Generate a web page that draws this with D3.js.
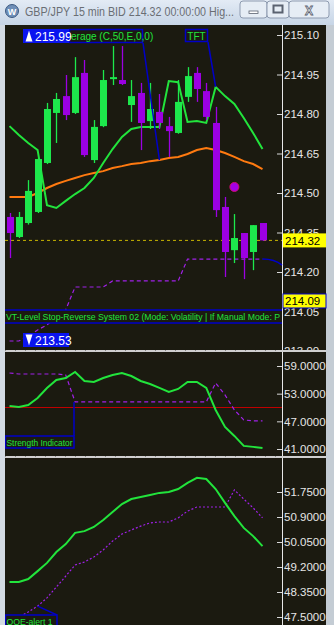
<!DOCTYPE html>
<html>
<head>
<meta charset="utf-8">
<script src="https://cdn.jsdelivr.net/npm/d3@7"></script>
<style>
  html, body { margin: 0; padding: 0; background: #1b1a10; overflow: hidden; }
  svg { display: block; font-family: "Liberation Sans", Arial, sans-serif; }
</style>
</head>
<body>
<svg id="chart" width="334" height="625"></svg>
<script>
// ---- data ----
var titleText = "GBP/JPY 15 min BID 214.32 00:00:00 Hig...";

var candleOpen  = [214.409, 214.333, 214.386, 214.428, 214.614, 214.804, 214.868, 214.804, 214.956, 214.625,
                   214.754, 214.933, 214.929, 214.834, 214.880, 214.773, 214.808, 214.754, 214.728, 214.865,
                   214.956, 214.887, 214.766, 214.447, 214.283, 214.348, 214.276, 214.386];
var candleHigh  = [214.424, 214.428, 214.549, 214.632, 214.842, 214.880, 214.948, 215.016, 215.005, 214.777,
                   214.967, 215.058, 215.058, 214.929, 214.918, 214.918, 214.876, 214.789, 214.929, 214.978,
                   214.978, 214.918, 214.827, 214.485, 214.420, 214.348, 214.378, 214.386];
var candleLow   = [214.253, 214.329, 214.380, 214.424, 214.610, 214.690, 214.777, 214.800, 214.637, 214.614,
                   214.750, 214.910, 214.910, 214.770, 214.663, 214.743, 214.743, 214.637, 214.725, 214.846,
                   214.846, 214.777, 214.409, 214.181, 214.234, 214.173, 214.207, 214.318];
var candleClose = [214.348, 214.409, 214.508, 214.629, 214.819, 214.857, 214.796, 214.940, 214.644, 214.751,
                   214.929, 214.940, 214.914, 214.868, 214.766, 214.819, 214.766, 214.735, 214.846, 214.944,
                   214.895, 214.789, 214.435, 214.276, 214.329, 214.253, 214.378, 214.320];

var emaValues  = [214.485, 214.485, 214.485, 214.500, 214.519, 214.534, 214.546, 214.557, 214.568, 214.576,
                  214.583, 214.595, 214.602, 214.610, 214.614, 214.621, 214.625, 214.633, 214.637, 214.648,
                  214.663, 214.671, 214.663, 214.652, 214.637, 214.621, 214.610, 214.591];
var tftValues  = [214.754, 214.720, 214.690, 214.663, 214.454, 214.443, 214.470, 214.496, 214.519, 214.557,
                  214.614, 214.667, 214.713, 214.743, 214.751, 214.751, 214.751, 214.925, 214.921, 214.770,
                  214.773, 214.766, 214.903, 214.868, 214.838, 214.785, 214.728, 214.667];
var stopValues = [213.938, 213.938, 213.957, 213.980, 213.999, 214.029, 214.056, 214.143, 214.143, 214.143,
                  214.143, 214.166, 214.166, 214.166, 214.166, 214.166, 214.166, 214.166, 214.166, 214.249,
                  214.249, 214.249, 214.249, 214.249, 214.249, 214.249, 214.249, 214.249];
var priceTicks = [215.10, 214.95, 214.80, 214.65, 214.50, 214.35, 214.20, 214.05, 213.90];
var bidPrice = 214.32;
var stopPrice = 214.09;
var highPrice = 215.99;
var lowPrice = 213.53;
var dotIndex = 24;
var dotPrice = 214.523;

var strengthMain   = [50.34, 50.12, 50.55, 52.07, 54.24, 55.97, 56.40, 57.70, 55.75, 55.53,
                      56.40, 57.05, 57.48, 56.83, 55.75, 55.10, 54.24, 53.37, 54.02, 55.53,
                      55.53, 54.24, 49.47, 45.79, 43.84, 41.67, 41.46, 41.24];
var strengthSignal = [57.48, 57.27, 57.27, 57.27, 57.27, 57.27, 57.05, 51.20, 51.20, 51.20,
                      51.20, 51.20, 51.20, 51.20, 51.20, 51.20, 51.20, 51.20, 51.20, 51.20,
                      51.20, 51.20, 55.32, 52.72, 49.47, 47.30, 47.09, 47.09];
var strengthLevel = 50;
var strengthTicks = [59, 53, 47, 41];

var qqeMain   = [48.69, 48.69, 48.79, 49.06, 49.34, 49.71, 49.98, 50.36, 50.42, 50.56,
                 50.80, 51.07, 51.34, 51.51, 51.58, 51.65, 51.72, 51.75, 51.85, 52.06,
                 52.23, 52.19, 51.85, 51.38, 50.93, 50.53, 50.25, 49.91];
var qqeSignal = [47.33, 47.50, 47.67, 47.87, 48.15, 48.52, 48.89, 49.27, 49.37, 49.54,
                 49.78, 50.08, 50.32, 50.46, 50.59, 50.70, 50.73, 50.73, 50.87, 51.10,
                 51.24, 51.24, 51.24, 51.24, 51.82, 51.51, 51.21, 50.87];
var qqeTicks = [51.75, 50.90, 50.05, 49.20, 48.35, 47.50];

// ---- layout ----
var width = 334, height = 625;
var left = 5, axisX = 282, right = 326;
var mainTop = 25, mainBottom = 350;
var strTop = 352, strBottom = 456;
var qqeTop = 458, qqeBottom = 625;

var bg = "#1b1a10";
var bull = "#1de84c", bear = "#9c00e2", lineGreen = "#22e43c", purple = "#a020e8";
var boxBlue = "#0000c8";

var svg = d3.select("#chart");
var idx = d3.range(candleOpen.length);

var x = d3.scaleLinear().domain([0, idx.length - 1]).range([9.5, 262.5]);
var yP = d3.scaleLinear().domain([215.10, 213.90]).range([35, 351]);
var yS = d3.scaleLinear().domain([59, 41]).range([366, 449]);
var yQ = d3.scaleLinear().domain([51.75, 47.5]).range([492, 617]);

var defs = svg.append("defs");
function clip(id, y0, y1) {
  defs.append("clipPath").attr("id", id)
    .append("rect").attr("x", left).attr("y", y0).attr("width", right - left).attr("height", y1 - y0);
}
clip("cMain", mainTop, mainBottom);
clip("cStr", strTop, strBottom);
clip("cQqe", qqeTop, qqeBottom);

// window frame
var tg = defs.append("linearGradient").attr("id", "titleGrad").attr("x1", 0).attr("y1", 0).attr("x2", 0).attr("y2", 1);
tg.append("stop").attr("offset", 0).attr("stop-color", "#e3ebf5");
tg.append("stop").attr("offset", 1).attr("stop-color", "#c7d5e6");
svg.append("rect").attr("width", width).attr("height", height).attr("fill", "#cdd7e2");
svg.append("rect").attr("width", width).attr("height", mainTop).attr("fill", "url(#titleGrad)");
svg.append("rect").attr("x", right).attr("y", mainTop).attr("width", width - right).attr("height", height - mainTop).attr("fill", "#c4ccd4");
svg.append("rect").attr("x", 0).attr("y", mainTop).attr("width", left).attr("height", height - mainTop).attr("fill", "#d3dbe3");

// title bar
svg.append("circle").attr("cx", 12).attr("cy", 11).attr("r", 6.5).attr("fill", "#6f8fb8").attr("stroke", "#3d5a82");
svg.append("text").attr("x", 12).attr("y", 14.5).attr("text-anchor", "middle").attr("font-size", 9).attr("font-weight", "bold")
  .attr("fill", "#ffffff").text("W");
svg.append("text").attr("x", 25).attr("y", 16).attr("font-size", 12).attr("fill", "#6a6e74")
  .attr("textLength", 209).attr("lengthAdjust", "spacingAndGlyphs").text(titleText);

var buttons = [{x: 240, w: 27, s: "min"}, {x: 267, w: 22, s: "max"}, {x: 289, w: 40, s: "close"}];
var btn = svg.append("g").selectAll("g").data(buttons).enter().append("g");
btn.append("rect").attr("x", d => d.x).attr("y", 1).attr("width", d => d.w).attr("height", 17).attr("rx", 3)
  .attr("fill", "#e6edf5").attr("stroke", "#8e9bb0");
btn.filter(d => d.s === "min").append("rect").attr("x", d => d.x + 9).attr("y", 11).attr("width", 9).attr("height", 2.5)
  .attr("fill", "#ffffff").attr("stroke", "#5a6270").attr("stroke-width", 0.8);
btn.filter(d => d.s === "max").append("rect").attr("x", d => d.x + 6.5).attr("y", 5.5).attr("width", 9).attr("height", 7)
  .attr("fill", "none").attr("stroke", "#5a6270").attr("stroke-width", 2);
btn.filter(d => d.s === "close").append("text").attr("x", d => d.x + d.w / 2).attr("y", 14.5).attr("text-anchor", "middle")
  .attr("font-size", 12).attr("font-weight", "bold").attr("fill", "#ffffff").attr("stroke", "#5a6270").attr("stroke-width", 0.8).text("X");

// panel backgrounds
[[mainTop, mainBottom], [strTop, strBottom], [qqeTop, qqeBottom]].forEach(function (p) {
  svg.append("rect").attr("x", left).attr("y", p[0]).attr("width", right - left).attr("height", p[1] - p[0]).attr("fill", bg);
});

// separators between panels
[mainBottom, strBottom].forEach(function (yy) {
  svg.append("rect").attr("x", left).attr("y", yy).attr("width", right - left).attr("height", 2).attr("fill", "#cfcfcf");
  svg.append("line").attr("x1", left).attr("x2", axisX).attr("y1", yy + 0.5).attr("y2", yy + 0.5)
    .attr("stroke", "#8a8a8a").attr("stroke-dasharray", "1,9");
});

function drawAxis(scale, ticks, fmt, clipId, y0, y1) {
  var g = svg.append("g").attr("clip-path", "url(#" + clipId + ")");
  var ax = g.append("g").attr("transform", "translate(" + axisX + ",0)")
    .call(d3.axisRight(scale).tickValues(ticks).tickFormat(fmt).tickSizeInner(-5).tickSizeOuter(0).tickPadding(2));
  ax.select(".domain").remove();
  ax.selectAll(".tick line").attr("stroke", "#d8d8d8");
  ax.selectAll(".tick text").attr("fill", "#e6e6e6").attr("font-size", 11.5)
    .attr("font-family", "'Liberation Sans', Arial, sans-serif");
  g.append("line").attr("x1", axisX + 0.5).attr("x2", axisX + 0.5).attr("y1", y0).attr("y2", y1).attr("stroke", "#e8e8e8");
}

// ---- main price panel ----
drawAxis(yP, priceTicks, d3.format(".2f"), "cMain", mainTop, mainBottom);
var main = svg.append("g").attr("clip-path", "url(#cMain)");

// yellow bid line
main.append("line").attr("x1", left).attr("x2", axisX).attr("y1", yP(bidPrice)).attr("y2", yP(bidPrice))
  .attr("stroke", "#c8b400").attr("stroke-dasharray", "3,3");

// stop-reverse dashed line
var lineP = d3.line().x(d => x(d[0])).y(d => yP(d[1]));
main.append("path").datum(idx.map(i => [i, stopValues[i]])).attr("d", lineP)
  .attr("fill", "none").attr("stroke", purple).attr("stroke-width", 1.2).attr("stroke-dasharray", "4,3");
var lastStop = [x(idx.length - 1), yP(stopValues[idx.length - 1])];
main.append("path")
  .attr("d", "M" + lastStop[0] + "," + lastStop[1] + " Q" + (lastStop[0] + 12) + "," + lastStop[1] + " " + axisX + "," + (lastStop[1] + 6))
  .attr("fill", "none").attr("stroke", boxBlue).attr("stroke-width", 1.5);

// orange EMA and green TFT
main.append("path").datum(idx.map(i => [i, emaValues[i]])).attr("d", lineP)
  .attr("fill", "none").attr("stroke", "#ff7a10").attr("stroke-width", 2);
main.append("path").datum(idx.map(i => [i, tftValues[i]])).attr("d", lineP)
  .attr("fill", "none").attr("stroke", lineGreen).attr("stroke-width", 2);

// candles
var candles = main.append("g").selectAll("g").data(idx).enter().append("g");
candles.append("line")
  .attr("x1", i => Math.round(x(i)) + 0.5).attr("x2", i => Math.round(x(i)) + 0.5)
  .attr("y1", i => yP(candleHigh[i])).attr("y2", i => yP(candleLow[i]))
  .attr("stroke", i => candleClose[i] >= candleOpen[i] ? bull : bear).attr("stroke-width", 1.3);
candles.append("rect")
  .attr("x", i => Math.round(x(i)) - 3).attr("width", 7)
  .attr("y", i => yP(Math.max(candleOpen[i], candleClose[i])))
  .attr("height", i => Math.max(2, Math.abs(yP(candleOpen[i]) - yP(candleClose[i]))))
  .attr("fill", i => candleClose[i] >= candleOpen[i] ? bull : bear);

// signal dot
main.append("circle").attr("cx", x(dotIndex)).attr("cy", yP(dotPrice)).attr("r", 4.5)
  .attr("fill", "#a300e6").attr("stroke", "#d0106a").attr("stroke-width", 1);

// connectors and labels at the top
main.append("line").attr("x1", 143).attr("y1", 43).attr("x2", x(16)).attr("y2", yP(emaValues[16]))
  .attr("stroke", boxBlue).attr("stroke-width", 1.5);
main.append("line").attr("x1", 208).attr("y1", 42).attr("x2", x(22)).attr("y2", yP(tftValues[22]))
  .attr("stroke", boxBlue).attr("stroke-width", 1.5);

main.append("rect").attr("x", 69.5).attr("y", 29.5).attr("width", 73).attr("height", 13).attr("fill", bg)
  .attr("stroke", boxBlue).attr("stroke-width", 1.5);
main.append("text").attr("x", 71).attr("y", 40).attr("font-size", 10).attr("fill", lineGreen).text("erage (C,50,E,0,0)");
main.append("rect").attr("x", 185.5).attr("y", 29.5).attr("width", 22).attr("height", 12).attr("fill", bg)
  .attr("stroke", boxBlue).attr("stroke-width", 1.5);
main.append("text").attr("x", 196.5).attr("y", 39.5).attr("text-anchor", "middle").attr("font-size", 10).attr("fill", lineGreen).text("TFT");

function priceBox(yTop, value, up) {
  main.append("rect").attr("x", 23).attr("y", yTop).attr("width", 46).attr("height", 14).attr("fill", "#0a14f0");
  var cx = 29;
  var arrow = up
    ? "M" + cx + "," + (yTop + 1.5) + " L" + (cx + 2) + "," + (yTop + 8) + " L" + (cx + 3.5) + "," + (yTop + 12.5) + " L" + (cx - 3.5) + "," + (yTop + 12.5) + " L" + (cx - 2) + "," + (yTop + 8) + " Z"
    : "M" + cx + "," + (yTop + 12.5) + " L" + (cx + 2) + "," + (yTop + 6) + " L" + (cx + 3.5) + "," + (yTop + 1.5) + " L" + (cx - 3.5) + "," + (yTop + 1.5) + " L" + (cx - 2) + "," + (yTop + 6) + " Z";
  main.append("path").attr("d", arrow).attr("fill", "#ffffff");
  main.append("text").attr("x", 35).attr("y", yTop + 11.5).attr("font-size", 12).attr("fill", "#ffffff").text(d3.format(".2f")(value));
}
priceBox(29, highPrice, true);

// stop-reverse caption band
main.append("rect").attr("x", left).attr("y", 310).attr("width", axisX - left).attr("height", 13).attr("fill", bg);
main.append("line").attr("x1", left).attr("x2", axisX).attr("y1", 310).attr("y2", 310).attr("stroke", boxBlue).attr("stroke-width", 1.5);
main.append("line").attr("x1", left).attr("x2", axisX).attr("y1", 323).attr("y2", 323).attr("stroke", boxBlue).attr("stroke-width", 1.5);
main.append("text").attr("x", 6).attr("y", 320).attr("font-size", 9.5).attr("fill", lineGreen)
  .attr("textLength", 274).attr("lengthAdjust", "spacingAndGlyphs")
  .text("VT-Level Stop-Reverse System 02 (Mode: Volatility | If Manual Mode: P");

priceBox(333, lowPrice, false);

// right-side price boxes
function sideBox(value, stroke) {
  var g = svg.append("g");
  g.append("rect").attr("x", 283).attr("y", yP(value) - 7).attr("width", 43).attr("height", 14)
    .attr("fill", "#ffff00").attr("stroke", stroke || "none");
  g.append("text").attr("x", 285).attr("y", yP(value) + 4.5).attr("font-size", 11.5).attr("fill", "#000000")
    .text(d3.format(".2f")(value));
}
sideBox(bidPrice);
sideBox(stopPrice, boxBlue);

// ---- strength indicator panel ----
drawAxis(yS, strengthTicks, d3.format(".4f"), "cStr", strTop, strBottom);
var str = svg.append("g").attr("clip-path", "url(#cStr)");
var lineS = d3.line().x(d => x(d[0])).y(d => yS(d[1]));
str.append("line").attr("x1", left).attr("x2", axisX).attr("y1", yS(strengthLevel)).attr("y2", yS(strengthLevel))
  .attr("stroke", "#c00000");
str.append("path").datum(idx.map(i => [i, strengthSignal[i]])).attr("d", lineS)
  .attr("fill", "none").attr("stroke", purple).attr("stroke-width", 1.2).attr("stroke-dasharray", "4,3");
str.append("path").datum(idx.map(i => [i, strengthMain[i]])).attr("d", lineS)
  .attr("fill", "none").attr("stroke", lineGreen).attr("stroke-width", 2);
str.append("line").attr("x1", 74).attr("x2", 74).attr("y1", yS(strengthSignal[7])).attr("y2", 436)
  .attr("stroke", boxBlue).attr("stroke-width", 1.5);
str.append("rect").attr("x", 5.5).attr("y", 436).attr("width", 68.5).attr("height", 12).attr("fill", bg)
  .attr("stroke", boxBlue).attr("stroke-width", 1.5);
str.append("text").attr("x", 6.5).attr("y", 445.5).attr("font-size", 9.5).attr("fill", lineGreen)
  .attr("textLength", 66).attr("lengthAdjust", "spacingAndGlyphs").text("Strength Indicator");

// ---- QQE panel ----
drawAxis(yQ, qqeTicks, d3.format(".4f"), "cQqe", qqeTop, qqeBottom);
var qqe = svg.append("g").attr("clip-path", "url(#cQqe)");
var lineQ = d3.line().x(d => x(d[0])).y(d => yQ(d[1]));
qqe.append("path").datum(idx.map(i => [i, qqeSignal[i]])).attr("d", lineQ)
  .attr("fill", "none").attr("stroke", purple).attr("stroke-width", 1.2).attr("stroke-dasharray", "2,2");
qqe.append("path").datum(idx.map(i => [i, qqeMain[i]])).attr("d", lineQ)
  .attr("fill", "none").attr("stroke", lineGreen).attr("stroke-width", 2);
qqe.append("line").attr("x1", x(3)).attr("y1", yQ(qqeSignal[3])).attr("x2", 57).attr("y2", 615)
  .attr("stroke", boxBlue).attr("stroke-width", 1.5);
qqe.append("rect").attr("x", 5.5).attr("y", 615).attr("width", 51.5).attr("height", 14).attr("fill", bg)
  .attr("stroke", boxBlue).attr("stroke-width", 1.5);
qqe.append("text").attr("x", 6.5).attr("y", 624.5).attr("font-size", 9.5).attr("fill", lineGreen)
  .attr("textLength", 46).attr("lengthAdjust", "spacingAndGlyphs").text("QQE-alert  1");
</script>
</body>
</html>
